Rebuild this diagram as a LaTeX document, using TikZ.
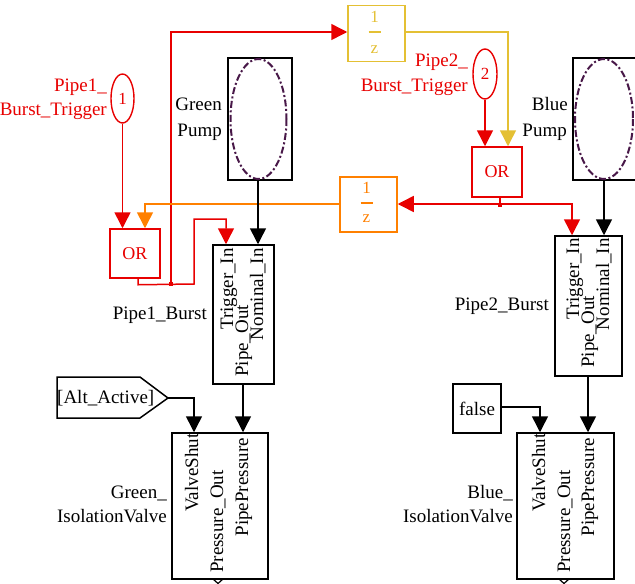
\documentclass[tikz,border=0pt]{standalone}
\usepackage{fontspec}
\setmainfont{Liberation Serif}
\usetikzlibrary{arrows.meta,shapes.geometric,shapes.symbols}
\definecolor{sred}{RGB}{232,0,0}
\definecolor{sorange}{RGB}{255,128,0}
\definecolor{syellow}{RGB}{228,192,52}
\definecolor{spurple}{RGB}{72,24,72}
\tikzset{
  txt/.style={font=\fontsize{19}{25}\selectfont, inner sep=0pt},
  smalltxt/.style={font=\fontsize{17}{20}\selectfont, inner sep=0pt},
  blk/.style={draw, line width=1.5pt, minimum width=#1, inner sep=0pt},
  wire/.style={line width=1.5pt},
  arr/.style={wire, -{Triangle[width=16pt,length=16pt]}},
  vlab/.style={txt, rotate=90},
  jdot/.style={fill, minimum size=4.5pt, inner sep=0pt, draw=none},
  pumpell/.style={spurple, line width=2pt, dash pattern=on 7pt off 2.5pt on 2pt off 2.5pt},
}
\begin{document}
\begin{tikzpicture}[x=1pt,y=-1pt]
\clip (0,0) rectangle (635,584);
\fill[white] (0,0) rectangle (635,584);

% ---------- inports ----------
\node[ellipse, draw=sred, text=sred, line width=1.4pt, minimum width=23pt, minimum height=49pt, inner sep=0pt, smalltxt] (in1) at (122.5,98.5) {1};
\node[txt, text=sred, anchor=base east] (in1la) at (107,91) {Pipe1\_};
\node[txt, text=sred, anchor=base east] (in1lb) at (107,115) {Burst\_Trigger};

\node[ellipse, draw=sred, text=sred, line width=1.4pt, minimum width=24pt, minimum height=50pt, inner sep=0pt, smalltxt] (in2) at (485,74) {2};
\node[txt, text=sred, anchor=base east] (in2la) at (468,66) {Pipe2\_};
\node[txt, text=sred, anchor=base east] (in2lb) at (468,91) {Burst\_Trigger};

% ---------- OR blocks ----------
\node[blk=50pt, minimum height=49pt, draw=sred, text=sred, font=\fontsize{18}{22}\selectfont] (or1) at (135,253.5) {OR};
\node[blk=50pt, minimum height=50pt, draw=sred, text=sred, font=\fontsize{18}{22}\selectfont] (or2) at (497,172) {OR};

% ---------- unit delays ----------
\node[blk=57pt, minimum height=56pt, draw=syellow] (yz) at (376.5,33.5) {};
\node[smalltxt, text=syellow] (yz1) at (374.5,17) {1};
\node[smalltxt, text=syellow] (yzz) at (374.5,50) {z};
\draw[syellow, line width=1.2pt] (368.5,32) -- (380.5,32);

\node[blk=57pt, minimum height=55pt, draw=sorange] (oz) at (368.5,204.5) {};
\node[smalltxt, text=sorange] (oz1) at (366.5,188) {1};
\node[smalltxt, text=sorange] (ozz) at (366.5,219) {z};
\draw[sorange, line width=1.2pt] (360.5,203) -- (372.5,203);

% ---------- pumps ----------
\node[blk=64pt, minimum height=122pt] (gp) at (260,119) {};
\draw[pumpell] (gp.center) ++(-1.5,0) ellipse [x radius=28, y radius=60];
\node[txt, anchor=base east] (gpla) at (222,110) {Green};
\node[txt, anchor=base east] (gplb) at (222,136) {Pump};

\node[blk=64pt, minimum height=122pt] (bp) at (605,119) {};
\draw[pumpell] (bp.center) ++(-1,0) ellipse [x radius=29, y radius=60];
\node[txt, anchor=base east] (bpla) at (568,110) {Blue};
\node[txt, anchor=base east] (bplb) at (567,136) {Pump};

% ---------- pipe burst blocks ----------
\node[blk=61pt, minimum height=139pt] (pb1) at (243.5,314.5) {};
\node[vlab, anchor=base east] (pb1a) at (233,248) {Trigger\_In};
\node[vlab, anchor=base east] (pb1b) at (263,248) {Nominal\_In};
\node[vlab, anchor=base west] (pb1c) at (248,377) {Pipe\_Out};
\node[txt, anchor=base east] (pb1l) at (207,319) {Pipe1\_Burst};

\node[blk=67pt, minimum height=140pt] (pb2) at (588.5,306) {};
\node[vlab, anchor=base east] (pb2a) at (579,238) {Trigger\_In};
\node[vlab, anchor=base east] (pb2b) at (609,238) {Nominal\_In};
\node[vlab, anchor=base west] (pb2c) at (594,368) {Pipe\_Out};
\node[txt, anchor=base east] (pb2l) at (549,310) {Pipe2\_Burst};

% ---------- isolation valves ----------
\node[blk=96pt, minimum height=146pt] (gv) at (220,506) {};
\node[vlab, anchor=base east] (gva) at (198,433.5) {ValveShut};
\node[vlab, anchor=base east] (gvb) at (248,438) {PipePressure};
\node[vlab, anchor=base west] (gvc) at (223,573) {Pressure\_Out};
\node[txt, anchor=base east] (gvla) at (167,498) {Green\_};
\node[txt, anchor=base east] (gvlb) at (167,522) {IsolationValve};
\draw[line width=1.2pt] (213,579) -- (218,583.5) -- (223,579);

\node[blk=97pt, minimum height=146pt] (bv) at (565.5,506) {};
\node[vlab, anchor=base east] (bva) at (545,433.5) {ValveShut};
\node[vlab, anchor=base east] (bvb) at (594,438) {PipePressure};
\node[vlab, anchor=base west] (bvc) at (570,573) {Pressure\_Out};
\node[txt, anchor=base east] (bvla) at (513,498) {Blue\_};
\node[txt, anchor=base east] (bvlb) at (513,522) {IsolationValve};
\draw[line width=1.2pt] (559,579) -- (564,583.5) -- (569,579);

% ---------- from tag and constant ----------
\draw[line width=1.5pt] (57,377) -- (140,377) -- (168,398) -- (140,418) -- (57,418) -- cycle;
\coordinate (tagtip) at (168,398);
\node[txt, anchor=base west] (tag) at (57,403) {[Alt\_Active]};

\node[blk=48pt, minimum height=49pt, txt] (fb) at (477,408.5) {false};

% ---------- connectors ----------
\draw[arr, sred] (in1.south) -- (in1.south |- or1.north);
\draw[arr, sred] (in2.south) -- (in2.south |- or2.north);

\coordinate (j1) at (171,284);
\draw[arr, sred] ([xshift=3pt]or1.south) -- ++(0,6) -- (194,284) -- (194,219) -- (226,219) -- (226,0 |- pb1.north);
\draw[arr, sred] (j1) -- (171,32) -- (yz.west |- 0,32);
\node[jdot, sred] (j1d) at (j1) {};

\draw[arr, syellow] (yz.east |- 0,32) -- (508,32) -- (508,0 |- or2.north);

\coordinate (j2) at (500,204);
\draw[wire, sred] ([xshift=3pt]or2.south) -- (j2);
\draw[arr, sred] (j2) -- (oz.east |- j2);
\draw[arr, sred] (j2) -- (572,204) -- (572,0 |- pb2.north);
\node[jdot, sred] (j2d) at (500,205) {};

\draw[arr, sorange] (oz.west |- 0,204) -- (145,204) -- (145,0 |- or1.north);

\draw[arr] (258,0 |- gp.south) -- (258,0 |- pb1.north);
\draw[arr] (604,0 |- bp.south) -- (604,0 |- pb2.north);

\draw[arr] (243,0 |- pb1.south) -- (243,0 |- gv.north);
\draw[arr] (588,0 |- pb2.south) -- (588,0 |- bv.north);

\draw[arr] (tagtip) -- (194,398) -- (194,0 |- gv.north);
\draw[arr] (fb.east |- 0,407) -- (540,407) -- (540,0 |- bv.north);
\end{tikzpicture}
\end{document}
